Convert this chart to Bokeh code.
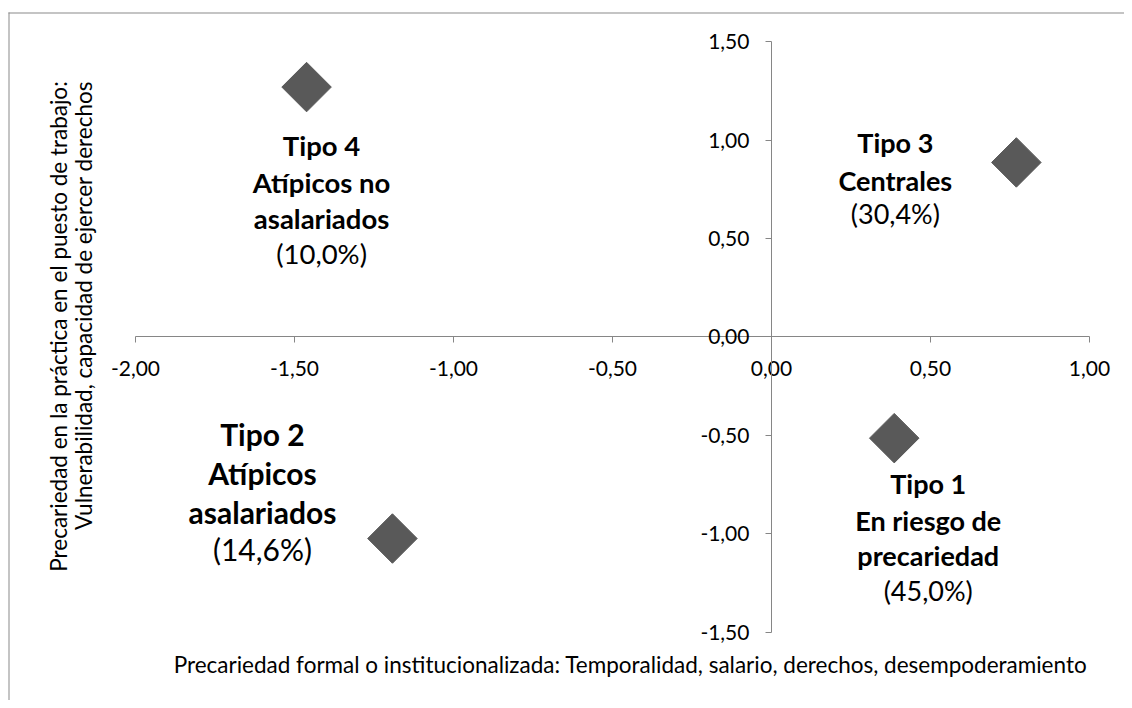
import math
from bokeh.plotting import figure
from bokeh.models import (Label, BoxAnnotation, CustomJSTickFormatter, FixedTicker,
                          LinearAxis, Range1d, ColumnDataSource)
from bokeh.embed import file_html
from bokeh.resources import INLINE

# ---------------- data ----------------
tipos = ["Tipo 1", "Tipo 2", "Tipo 3", "Tipo 4"]
nombres = [["En riesgo de", "precariedad"], ["Atípicos", "asalariados"],
           ["Centrales"], ["Atípicos no", "asalariados"]]
porcentajes = ["(45,0%)", "(14,6%)", "(30,4%)", "(10,0%)"]
x_formal = [0.386, -1.192, 0.770, -1.462]
y_practica = [-0.514, -1.024, 0.887, 1.270]

x_ticks = [-2.0, -1.5, -1.0, -0.5, 0.0, 0.5, 1.0]
y_ticks = [-1.5, -1.0, -0.5, 0.0, 0.5, 1.0, 1.5]

x_title = "Precariedad formal o institucionalizada: Temporalidad, salario, derechos, desempoderamiento"
y_title = ["Precariedad en la práctica en el puesto de trabajo:",
           "Vulnerabilidad, capacidad de ejercer derechos"]

# ---------------- layout ----------------
W, H = 1124, 700
X0, X1 = -2.4245, 1.1101
Y0, Y1 = -1.8471, 1.7099
FONT = "Lato"
GREY = "#868686"
MARK = "#595959"

def px_to_x(px):
    return X0 + px / W * (X1 - X0)

def px_to_y(py):
    return Y1 - py / H * (Y1 - Y0)

p = figure(width=W, height=H, output_backend="svg", toolbar_location=None,
           x_range=Range1d(X0, X1), y_range=Range1d(Y0, Y1),
           x_axis_type=None, y_axis_type=None, min_border=0)
p.outline_line_color = None
p.background_fill_color = "white"
p.border_fill_color = "white"

fmt = CustomJSTickFormatter(code="return tick.toFixed(2).replace('.', ',');")

def style_axis(ax):
    ax.axis_line_color = GREY
    ax.major_tick_line_color = GREY
    ax.minor_tick_line_color = None
    ax.major_tick_in = 0
    ax.major_tick_out = 6
    ax.major_label_text_font = FONT
    ax.major_label_text_font_size = "21px"
    ax.major_label_text_color = "#000000"
    ax.formatter = fmt

xaxis = LinearAxis(fixed_location=0, bounds=(-2, 1), ticker=FixedTicker(ticks=x_ticks))
style_axis(xaxis)
xaxis.major_label_standoff = 18
p.add_layout(xaxis, "below")

yaxis = LinearAxis(fixed_location=0, bounds=(-1.5, 1.5), ticker=FixedTicker(ticks=y_ticks))
style_axis(yaxis)
yaxis.major_label_standoff = 16
p.add_layout(yaxis, "left")

# chart border: top and left edges (the rest lies outside the view)
BORDER = "#898989"
p.add_layout(BoxAnnotation(left=8, left_units="canvas", right=W, right_units="canvas",
                           top=12, top_units="canvas", bottom=13, bottom_units="canvas",
                           fill_color=BORDER, fill_alpha=1, line_color=None))
p.add_layout(BoxAnnotation(left=8, left_units="canvas", right=9, right_units="canvas",
                           top=12, top_units="canvas", bottom=H, bottom_units="canvas",
                           fill_color=BORDER, fill_alpha=1, line_color=None))

src = ColumnDataSource(dict(x=x_formal, y=y_practica))
p.scatter("x", "y", source=src, marker="square", angle=math.pi / 4, size=35,
          fill_color=MARK, line_color=MARK)

# label layout per point: (dx, [dy per line], font px)
label_layout = {
    "Tipo 1": (34, [45, 82, 117, 152], 27),
    "Tipo 2": (-130, [-105, -66, -27, 10], 30),
    "Tipo 3": (-121, [-20, 18, 51], 27),
    "Tipo 4": (15, [58, 95, 131, 166], 27.5),
}

for t, nm, pc, xv, yv in zip(tipos, nombres, porcentajes, x_formal, y_practica):
    dx, dys, fs = label_layout[t]
    lines = [t] + nm + [pc]
    for i, (line, dy) in enumerate(zip(lines, dys)):
        bold = i < len(lines) - 1
        p.add_layout(Label(x=xv, y=yv, x_offset=dx, y_offset=-dy, text=line,
                           text_align="center", text_baseline="middle",
                           text_font=FONT, text_font_size=f"{fs}px",
                           text_font_style="bold" if bold else "normal",
                           text_color="#000000"))

# axis titles
p.add_layout(Label(x=px_to_x(630), y=px_to_y(664), text=x_title, text_align="center",
                   text_baseline="middle", text_font=FONT, text_font_size="22.5px",
                   text_color="#000000"))
for txt, cx, cy in zip(y_title, [58, 83], [326, 305]):
    p.add_layout(Label(x=px_to_x(cx), y=px_to_y(cy), text=txt, angle=math.pi / 2,
                       text_align="center", text_baseline="middle", text_font=FONT,
                       text_font_size="22.5px", text_color="#000000"))

open("out.html", "w").write(file_html(p, INLINE))
